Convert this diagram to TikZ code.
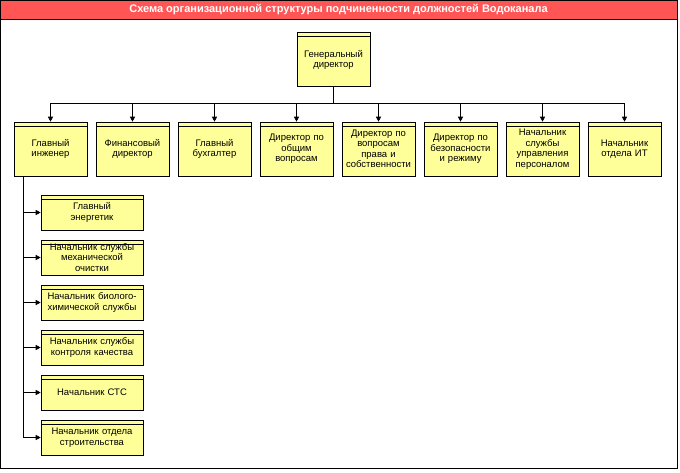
\documentclass[tikz,border=0pt]{standalone}
\usepackage{fontspec}
\setmainfont{Liberation Sans}
\usetikzlibrary{arrows.meta,positioning}
\definecolor{boxyellow}{HTML}{FFFF99}
\definecolor{titlered}{HTML}{FF5555}
\begin{document}
\begin{tikzpicture}[x=1pt,y=-1pt,>={Triangle[length=5pt,width=5pt]},semithick,
	font=\fontsize{9.5}{10.5}\selectfont]
	\tikzset{post/.style={draw=black,fill=boxyellow,align=center,inner sep=1pt,
		minimum width=73pt,minimum height=54pt,text width=71pt,
		path picture={\draw ([yshift=-4.5pt]path picture bounding box.north west)
			-- ([yshift=-4.5pt]path picture bounding box.north east);}},
		sub/.style={post,minimum width=102pt,minimum height=35pt,text width=100pt}}
	\useasboundingbox (0,0) rectangle (680,472);
	\draw[fill=white] (0.5,0.5) rectangle (677,468);
	\draw[fill=titlered] (0.5,0.5) rectangle (677,19);
	\node[text=white,font=\fontsize{11}{11}\bfseries] (title) at (338.5,10) {Схема организационной структуры подчиненности должностей Водоканала};

	\node[post] (gd) at (333.5,59) {\\[-2pt]Генеральный\\директор};

	\node[post] (r1) at (50.5,149)  {\\[-4pt]Главный\\инженер};
	\node[post] (r2) at (132.5,149) {\\[-4pt]Финансовый\\директор};
	\node[post] (r3) at (214.5,149) {\\[-4pt]Главный\\бухгалтер};
	\node[post] (r4) at (296.5,149) {Директор по\\общим\\вопросам};
	\node[post] (r5) at (378.5,149) {Директор по\\вопросам\\права и\\собственности};
	\node[post] (r6) at (460.5,149) {Директор по\\безопасности\\и режиму};
	\node[post] (r7) at (542.5,149) {Начальник\\службы\\управления\\персоналом};
	\node[post] (r8) at (624.5,149) {\\[-4pt]Начальник\\отдела ИТ};

	\node[sub] (s1) at (92,212.5) {Главный\\энергетик};
	\node[sub] (s2) at (92,257.5) {Начальник службы\\механической\\очистки};
	\node[sub] (s3) at (92,302.5) {Начальник биолого-\\химической службы};
	\node[sub] (s4) at (92,347.5) {Начальник службы\\контроля качества};
	\node[sub] (s5) at (92,392.5) {Начальник СТС};
	\node[sub] (s6) at (92,437.5) {Начальник отдела\\строительства};

	% top level
	\foreach \i in {1,...,8}
		\draw[->] (gd.south) |- ([yshift=18pt]r\i.north) -- (r\i.north);

	% chief engineer
	\coordinate (spine) at (23,176);
	\foreach \i in {1,...,6}
		\draw[->] (spine) |- (s\i.west);
\end{tikzpicture}
\end{document}
